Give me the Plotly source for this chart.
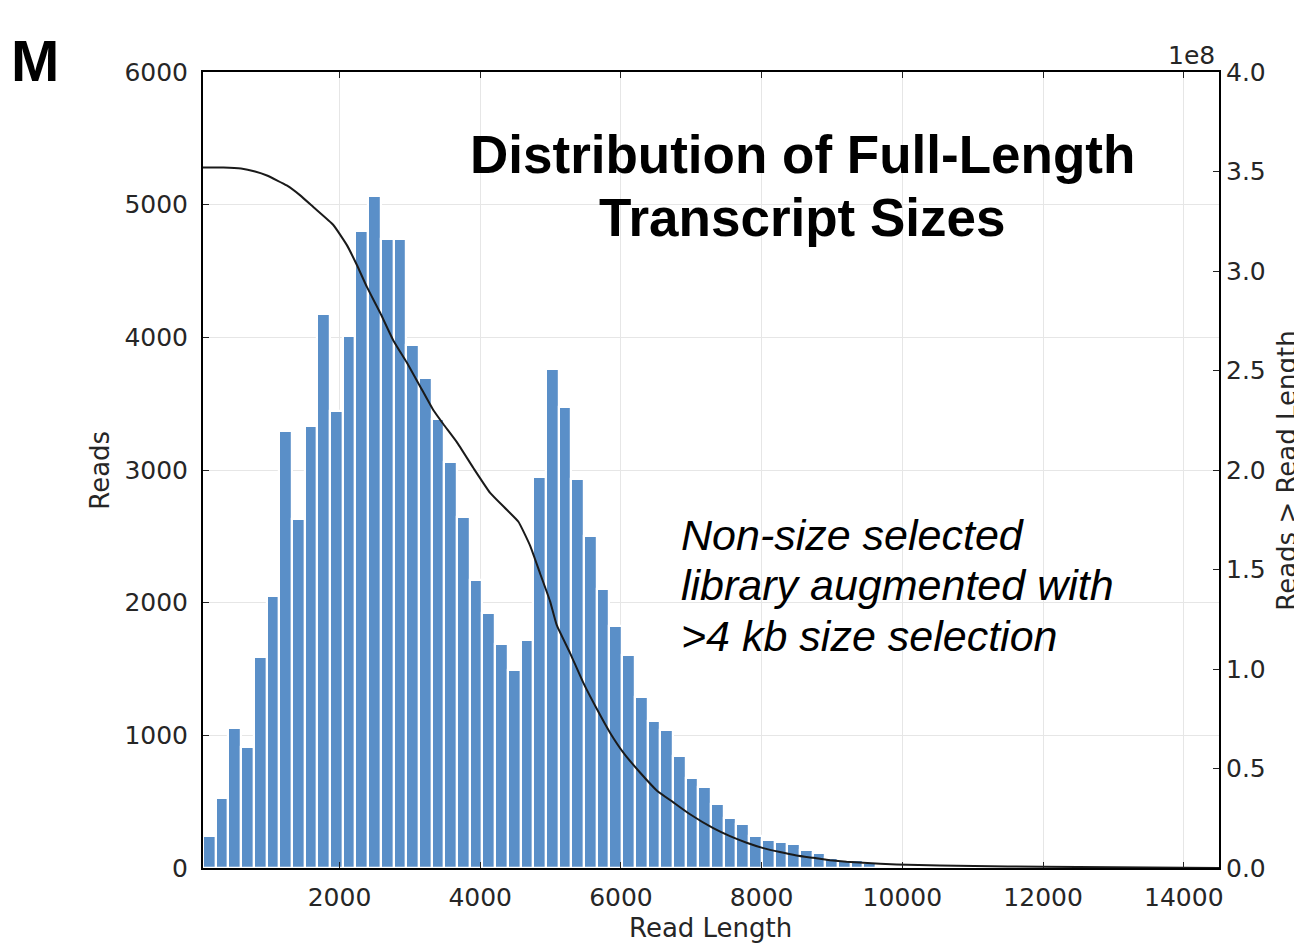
import plotly.graph_objects as go

# ---- data ----
bin_start = 60
bin_end = 14500
counts = [245, 526, 1058, 910, 1590, 2054, 3297, 2632, 3332, 4175,
          3447, 4010, 4803, 5069, 4738, 4738, 3944, 3693, 3382, 3063,
          2649, 2172, 1921, 1690, 1490, 1721, 2950, 3759, 3478, 2931,
          2499, 2105, 1821, 1605, 1291, 1106, 1040, 845, 676, 610,
          479, 378, 328, 245, 213, 197, 179, 132, 115, 75,
          62, 60, 34, 18, 16, 10, 16, 12, 9, 8,
          6, 5, 4, 4, 3, 3, 2, 2, 2, 1,
          1, 1, 1, 1, 1, 0, 1, 0, 1, 0]

curve_x = [60, 350, 600, 800, 969, 1250, 1442, 1631, 1915, 2105, 2247, 2389, 2578, 2767, 2957,
           3146, 3335, 3477, 3668, 3903, 4141, 4378, 4543, 4709, 4851, 4993,
           5088, 5277, 5466, 5656, 5845, 6034, 6271, 6509, 6744, 6982, 7312,
           7550, 7787, 8023, 8260, 8497, 8733, 8970, 9207, 9443, 9918, 10533,
           11500, 12500, 13500, 14500]
curve_y = [3.52, 3.52, 3.515, 3.50, 3.48, 3.43, 3.38, 3.32, 3.23, 3.13, 3.03, 2.92, 2.79, 2.65, 2.54,
           2.42, 2.30, 2.23, 2.14, 2.01, 1.885, 1.80, 1.74, 1.62, 1.48, 1.34,
           1.22, 1.08, 0.93, 0.80, 0.68, 0.58, 0.48, 0.39, 0.33, 0.27, 0.20,
           0.16, 0.127, 0.10, 0.08, 0.063, 0.051, 0.039, 0.031, 0.026, 0.018, 0.013,
           0.008, 0.005, 0.002, 0.0]

x_ticks = [2000, 4000, 6000, 8000, 10000, 12000, 14000]
x_ticktext = ["2000", "4000", "6000", "8000", "10000", "12000", "14000"]
y_ticks = [0, 1000, 2000, 3000, 4000, 5000, 6000]
y2_ticks = [0.0, 0.5, 1.0, 1.5, 2.0, 2.5, 3.0, 3.5, 4.0]

title_lines = ["Distribution of Full-Length", "Transcript Sizes"]
note_lines = ["Non-size selected", "library augmented with", ">4 kb size selection"]

# ---- figure ----
n = len(counts)
bw = (bin_end - bin_start) / n
centers = [bin_start + (i + 0.5) * bw for i in range(n)]

OFF = 8  # page body margin in the browser
L, R, T, B = 203, 1219, 72, 868.5   # plot area in page pixels
W, H = 1302 - OFF, 945 - OFF        # figure size
pw, ph = R - L, B - T


def px(xp):
    return (xp - L) / pw


def py(yp):
    return (B - yp) / ph


fig = go.Figure()
fig.add_trace(go.Bar(x=centers, y=counts, width=bw,
                     marker=dict(color="#5a8fc8", line=dict(color="white", width=2.2)),
                     yaxis="y"))
fig.add_trace(go.Scatter(x=curve_x, y=curve_y, mode="lines", yaxis="y2",
                         line=dict(color="#1a1a1a", width=2, shape="spline", smoothing=0.4)))

tickfont = dict(family="DejaVu Sans", size=25, color="#262626")
labelfont = dict(family="DejaVu Sans", size=26, color="#262626")

fig.update_layout(
    width=W, height=H,
    margin=dict(l=L - OFF, r=(W + OFF) - R, t=T - OFF, b=(H + OFF) - B, autoexpand=False),
    paper_bgcolor="white", plot_bgcolor="white",
    showlegend=False,
    xaxis=dict(range=[bin_start, bin_end], tickvals=x_ticks, ticktext=x_ticktext,
               ticks="inside", ticklen=6, tickcolor="#222", automargin=False,
               showline=True, linecolor="black", linewidth=2, mirror="ticks",
               showgrid=True, gridcolor="#e6e6e6", gridwidth=1,
               zeroline=False, tickfont=tickfont, ticklabelstandoff=6),
    yaxis=dict(range=[0, 6000], tickvals=y_ticks, automargin=False,
               ticks="inside", ticklen=6, tickcolor="#222",
               showline=True, linecolor="black", linewidth=2, mirror=True,
               showgrid=True, gridcolor="#e6e6e6", gridwidth=1,
               zeroline=False, tickfont=tickfont, ticklabelstandoff=8),
    yaxis2=dict(range=[0, 4.0], tickvals=y2_ticks, tickformat=".1f",
                overlaying="y", side="right", automargin=False,
                ticks="inside", ticklen=6, tickcolor="#222",
                showline=False, showgrid=False, zeroline=False,
                tickfont=tickfont, ticklabelstandoff=6),
    bargap=0,
)

fig.add_annotation(text="<b>M</b>", xref="paper", yref="paper",
                   x=px(OFF + 1), y=py(60), xanchor="left", yanchor="middle",
                   showarrow=False, font=dict(family="Liberation Sans", size=58, color="black"))
for i, t in enumerate(title_lines):
    fig.add_annotation(text="<b>" + t + "</b>", xref="paper", yref="paper",
                       x=px(802), y=py(155 + 63 * i), xanchor="center", yanchor="middle",
                       showarrow=False,
                       font=dict(family="Liberation Sans", size=53, color="black"))
for i, t in enumerate(note_lines):
    fig.add_annotation(text="<i>" + t + "</i>", xref="paper", yref="paper",
                       x=px(679), y=py(535 + 50.5 * i), xanchor="left", yanchor="middle",
                       showarrow=False,
                       font=dict(family="Liberation Sans", size=43, color="black"))
fig.add_annotation(text="1e8", xref="paper", yref="paper",
                   x=px(1217), y=py(55), xanchor="right", yanchor="middle",
                   showarrow=False, font=tickfont)
fig.add_annotation(text="Read Length", xref="paper", yref="paper",
                   x=px(710), y=py(929), xanchor="center", yanchor="middle",
                   showarrow=False, font=labelfont)
fig.add_annotation(text="Reads", xref="paper", yref="paper", textangle=-90,
                   x=px(100), y=py(471), xanchor="center", yanchor="middle",
                   showarrow=False, font=labelfont)
fig.add_annotation(text="Reads > Read Length", xref="paper", yref="paper", textangle=-90,
                   x=px(1287), y=py(471), xanchor="center", yanchor="middle",
                   showarrow=False, font=labelfont)

fig.write_html("out.html")
